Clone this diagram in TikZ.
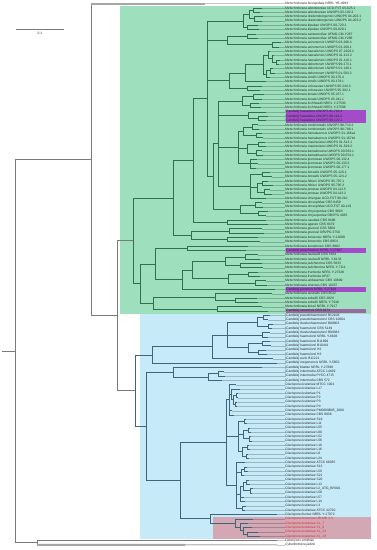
\documentclass[tikz,border=0pt]{standalone}
\usepackage{fontspec}
\setmainfont{Liberation Sans}
\usetikzlibrary{calc}

\definecolor{grnbg}{HTML}{9EDFBD}
\definecolor{blubg}{HTML}{C6EAF8}
\definecolor{redbg}{HTML}{D4A7B5}
\definecolor{purbg}{HTML}{A34BC9}
\definecolor{gpbg}{HTML}{9A68A4}
\definecolor{grnline}{HTML}{2E7050}
\definecolor{bluline}{HTML}{3E6678}
\definecolor{greyline}{HTML}{7A7A7A}
\definecolor{redtxt}{HTML}{D42A2A}
\colorlet{lab}{black!85}

\newcommand{\metn}[1]{\textit{Metschnikowia #1}}
\newcommand{\cand}[1]{\textit{[Candida] #1}}
\newcommand{\clav}[1]{\textit{Clavispora #1}}

% clade: name, x, first child, last child, all children
\newcommand{\clade}[5]{%
  \path let \p1=(#3), \p2=(#4) in coordinate (#1) at (#2pt,{0.5*(\y1+\y2)});
  \draw[br] (#1 |- #3) -- (#1 |- #4);
  \foreach \c in {#5} {\draw[br] (#1 |- \c) -- (\c);}
}

\begin{document}
\begin{tikzpicture}[x=1pt, y=-1pt,
    leaf/.style={anchor=west, inner sep=0pt, font=\fontsize{3.3}{3.6}\selectfont},
    br/.style={line width=0.7pt, draw=greyline},
    tipline/.style={line width=0.25pt, draw=black, draw opacity=0.22},
    gbar/.style={line width=1.8pt, draw=gray!70},
    sbar/.style={line width=0.8pt, draw=greyline}
  ]
  \useasboundingbox (0,0) rectangle (376,550);

  % clade boxes
  \fill[grnbg] (120,6) rectangle (371,314);
  \fill[blubg] (140,314) rectangle (371,539);
  \fill[redbg] (213,516.6) rectangle (371,539);
  \fill[purbg] (286,109.7) rectangle (366,122.7);
  \fill[purbg] (286,248.2) rectangle (366,252.6);
  \fill[purbg] (286,287.2) rectangle (366,291.6);
  \fill[gpbg] (286,308.8) rectangle (366,313.2);

  % scale bar
  \coordinate (s1) at (16,29.3);
  \coordinate (s2) at (64,29.3);
  \draw[sbar] (s1) -- (s2);
  \node[font=\fontsize{3.3}{3.6}\selectfont, text=lab] (slab) at (40,33.6) {0.1};

  % leaves
  \foreach \k/\tx/\txt/\st in {
    0/205/{\metn{bicuspidata} NRRL YB-4993}/lab,
    1/262/{\metn{aberdeeniae} UCD-FST 05-625.1}/lab,
    2/260/{\metn{aberdeeniae} UWOPS 03-102.2}/lab,
    3/263/{\metn{drakensbergensis} UWOPS 04-202.1}/lab,
    4/262/{\metn{drakensbergensis} UWOPS 04-203.2}/lab,
    5/258/{\metn{kipukae} UWOPS 00-720.2}/lab,
    6/259/{\metn{kipukae} UWOPS 00-829.1}/lab,
    7/256/{\metn{santaceciliae} UFMG-CM-Y287}/lab,
    8/258/{\metn{santaceciliae} UFMG-CM-Y288}/lab,
    9/281/{\metn{arizonensis} UWOPS 03-206.4}/lab,
    10/279/{\metn{arizonensis} UWOPS 03-209.1}/lab,
    11/270/{\metn{hawaiiensis} UWOPS 87-2203.2}/lab,
    12/274/{\metn{hawaiiensis} UWOPS 01-113.2}/lab,
    13/280/{\metn{hawaiiensis} UWOPS 01-116.1}/lab,
    14/279/{\metn{dekortorum} UWOPS 99-173.1}/lab,
    15/273/{\metn{dekortorum} UWOPS 01-140.1}/lab,
    16/275/{\metn{dekortorum} UWOPS 01-503.2}/lab,
    17/270/{\metn{similis} UWOPS 03-178.4}/lab,
    18/266/{\metn{similis} UWOPS 03-179.1}/lab,
    19/262/{\metn{colocasiae} UWOPS 95-244.3}/lab,
    20/260/{\metn{colocasiae} UWOPS 95-302.1}/lab,
    21/264/{\metn{lunata} UWOPS 05-237.1}/lab,
    22/262/{\metn{lunata} UWOPS 05-241.1}/lab,
    23/259/{\metn{lochheadii} NRRL Y-27593}/lab,
    24/261/{\metn{lochheadii} NRRL Y-27596}/lab,
    25/266/{\cand{hawaiiana} UWOPS 91-764.4}/lab,
    26/268/{\cand{hawaiiana} UWOPS 99-118.2}/lab,
    27/266/{\cand{hawaiiana} UWOPS 99-122.1}/lab,
    28/258/{\metn{continentalis} UWOPS 98-713.2}/lab,
    29/259/{\metn{continentalis} UWOPS 98-788.1}/lab,
    30/262/{\metn{hamakuensis} UWOPS 01-166a1}/lab,
    31/263/{\metn{hamakuensis} UWOPS 01-167b1}/lab,
    32/265/{\metn{mauinuiana} UWOPS 01-513.1}/lab,
    33/266/{\metn{mauinuiana} UWOPS 01-529.2}/lab,
    34/262/{\metn{kamakouana} UWOPS 00-563.1}/lab,
    35/263/{\metn{kamakouana} UWOPS 00-554.1}/lab,
    36/257/{\metn{ipomoeae} UWOPS 00-132.4}/lab,
    37/258/{\metn{ipomoeae} UWOPS 00-133.2}/lab,
    38/256/{\metn{ipomoeae} UWOPS 00-177.1}/lab,
    39/270/{\metn{borealis} UWOPS 05-120.1}/lab,
    40/272/{\metn{borealis} UWOPS 05-124.2}/lab,
    41/268/{\metn{hibisci} UWOPS 95-797.1}/lab,
    42/273/{\metn{hibisci} UWOPS 95-795.3}/lab,
    43/270/{\metn{proteae} UWOPS 04-112.5}/lab,
    44/272/{\metn{proteae} UWOPS 04-113.2}/lab,
    45/266/{\metn{shivogae} UCD-FST 99-210}/lab,
    46/262/{\metn{drosophilae} CBS 8459}/lab,
    47/263/{\metn{drosophilae} UCD-FST 00-119}/lab,
    48/268/{\metn{chrysoperlae} CBS 9803}/lab,
    49/266/{\metn{chrysoperlae} DBVPG 4035}/lab,
    50/266/{\metn{caudata} CBS 9498}/lab,
    51/268/{\metn{agaves} CBS 8479}/lab,
    52/262/{\metn{gruessii} CBS 5860}/lab,
    53/264/{\metn{gruessii} DBVPG 3750}/lab,
    54/258/{\metn{koreensis} NRRL Y-12698}/lab,
    55/260/{\metn{koreensis} CBS 8854}/lab,
    56/248/{\metn{kunwiensis} CBS 8802}/lab,
    57/246/{\cand{picachoensis} NRRL Y-27607}/lab,
    58/258/{\metn{reukaufii} CBS 5834}/lab,
    59/260/{\metn{reukaufii} NRRL Y-6133}/lab,
    60/262/{\metn{pulcherrima} CBS 5833}/lab,
    61/263/{\metn{pulcherrima} NRRL Y-7111}/lab,
    62/258/{\metn{fructicola} NRRL Y-27328}/lab,
    63/260/{\metn{fructicola} AP47}/lab,
    64/266/{\metn{andauensis} CBS 10809}/lab,
    65/267/{\metn{sinensis} CBS 10357}/lab,
    66/275/{\cand{pimensis} NRRL Y-27619}/lab,
    67/272/{\metn{australis} CBS 8522}/lab,
    68/257/{\metn{zobellii} CBS 2829}/lab,
    69/258/{\metn{zobellii} NRRL Y-7916}/lab,
    70/262/{\metn{krissii} NRRL Y-7917}/lab,
    71/268/{\cand{rancensis} CBS 8174}/lab,
    72/270/{\cand{pseudohaemulonii} B12108}/lab,
    73/268/{\cand{pseudohaemulonii} CBS 10004}/lab,
    74/273/{\cand{duobushaemulonii} B09903}/lab,
    75/272/{\cand{haemulonii} CBS 5149}/lab,
    76/270/{\cand{duobushaemulonii} B09383}/lab,
    77/268/{\cand{haemulonii} NRRL Y-6693}/lab,
    78/270/{\cand{haemulonii} B11899}/lab,
    79/271/{\cand{haemulonii} B10441}/lab,
    80/266/{\cand{haemulonii} H2}/lab,
    81/267/{\cand{haemulonii} H3}/lab,
    82/273/{\cand{auris} B11221}/lab,
    83/277/{\cand{oregonensis} NRRL Y-5850}/lab,
    84/262/{\cand{blattae} NRRL Y-27698}/lab,
    85/224/{\cand{intermedia} ATCC 14439}/lab,
    86/225/{\cand{intermedia} PYCC 4715}/lab,
    87/222/{\cand{intermedia} CBS 572}/lab,
    88/236/{\clav{lusitaniae} MTCC 1001}/lab,
    89/240/{\clav{lusitaniae} L17}/lab,
    90/238/{\clav{lusitaniae} P1}/lab,
    91/238/{\clav{lusitaniae} P2}/lab,
    92/237/{\clav{lusitaniae} P3}/lab,
    93/237/{\clav{lusitaniae} P4}/lab,
    94/232/{\clav{lusitaniae} PM0089B05\_2090}/lab,
    95/234/{\clav{lusitaniae} CBS 6936}/lab,
    96/246/{\clav{lusitaniae} S19}/lab,
    97/247/{\clav{lusitaniae} L11}/lab,
    98/250/{\clav{lusitaniae} L55}/lab,
    99/251/{\clav{lusitaniae} L60}/lab,
    100/251/{\clav{lusitaniae} L52}/lab,
    101/252/{\clav{lusitaniae} L56}/lab,
    102/249/{\clav{lusitaniae} L18}/lab,
    103/250/{\clav{lusitaniae} L16}/lab,
    104/248/{\clav{lusitaniae} L8}/lab,
    105/249/{\clav{lusitaniae} L24}/lab,
    106/245/{\clav{lusitaniae} ATCC 66035}/lab,
    107/247/{\clav{lusitaniae} S13}/lab,
    108/248/{\clav{lusitaniae} L50}/lab,
    109/244/{\clav{lusitaniae} S21}/lab,
    110/249/{\clav{lusitaniae} S20}/lab,
    111/250/{\clav{lusitaniae} L13}/lab,
    112/253/{\clav{lusitaniae} L2\_ATG\_BR001}/lab,
    113/252/{\clav{lusitaniae} L58}/lab,
    114/244/{\clav{lusitaniae} L57}/lab,
    115/245/{\clav{lusitaniae} L14}/lab,
    116/246/{\clav{lusitaniae} L3}/lab,
    117/245/{\clav{lusitaniae} ATCC 42720}/lab,
    118/277/{\clav{fructus} NRRL Y-17072}/lab,
    119/253/{\clav{lusitaniae} UB-MR 3.3}/redtxt,
    120/248/{\clav{lusitaniae} XL\_7}/redtxt,
    121/252/{\clav{lusitaniae} XL\_9}/redtxt,
    122/258/{\clav{lusitaniae} XL\_14}/redtxt,
    123/260/{\clav{lusitaniae} XL\_18}/redtxt,
    124/277/{\textit{Lipomyces smithiae}}/lab,
    125/277/{\textit{Cyberlindnera jadinii}}/lab}
  {
    \coordinate (tp\k) at (\tx,{3.6+4.33*\k});
    \node[leaf, text=\st] (t\k) at (285,{3.6+4.33*\k}) {\txt};
    \draw[tipline] (tp\k) -- (t\k.west);
  }

  % Metschnikowia clade (green)
  \begin{scope}[br/.style={line width=0.7pt, draw=grnline}]
    \clade{nAa}{253}{tp1}{tp2}{tp1,tp2}
    \clade{nAb}{254}{tp3}{tp4}{tp3,tp4}
    \clade{nAc}{247}{tp5}{tp6}{tp5,tp6}
    \clade{nAab}{249}{nAa}{nAb}{nAa,nAb}
    \clade{nA}{243}{nAab}{nAc}{nAab,nAc}
    \clade{nHa}{247}{tp7}{tp8}{tp7,tp8}
    \clade{nHb}{272}{tp9}{tp10}{tp9,tp10}
    \clade{nH}{227}{nHa}{nHb}{nHa,nHb}
    \clade{nCa}{276}{tp13}{tp14}{tp13,tp14}
    \clade{nCb}{272}{tp12}{nCa}{tp12,nCa}
    \clade{nCc}{268}{tp11}{nCb}{tp11,nCb}
    \clade{nCd}{270}{tp15}{tp16}{tp15,tp16}
    \clade{nCe}{266}{nCd}{tp17}{nCd,tp17}
    \clade{nC1}{263}{nCc}{nCe}{nCc,nCe}
    \clade{nC}{245}{nC1}{tp18}{nC1,tp18}
    \clade{nD}{247}{tp19}{tp20}{tp19,tp20}
    \clade{nCD}{229}{nC}{nD}{nC,nD}
    \clade{nEa}{253}{tp21}{tp22}{tp21,tp22}
    \clade{nEb}{250}{tp23}{tp24}{tp23,tp24}
    \clade{nE}{242}{nEa}{nEb}{nEa,nEb}
    \clade{nPa}{258}{tp26}{tp27}{tp26,tp27}
    \clade{nP}{248}{tp25}{nPa}{tp25,nPa}
    \clade{nQa}{252}{tp28}{tp29}{tp28,tp29}
    \clade{nQb}{256}{tp30}{tp31}{tp30,tp31}
    \clade{nQab}{243}{nQa}{nQb}{nQa,nQb}
    \clade{nQc}{258}{tp32}{tp33}{tp32,tp33}
    \clade{nQd}{256}{tp34}{tp35}{tp34,tp35}
    \clade{nQcd}{247}{nQc}{nQd}{nQc,nQd}
    \clade{nQe}{250}{tp36}{tp38}{tp36,tp37,tp38}
    \clade{nQ}{238}{nQab}{nQe}{nQab,nQcd,nQe}
    \clade{nRa}{262}{tp39}{tp40}{tp39,tp40}
    \clade{nRb}{262}{tp41}{tp42}{tp41,tp42}
    \clade{nRc}{264}{tp43}{tp44}{tp43,tp44}
    \clade{nRbc}{257}{nRb}{nRc}{nRb,nRc}
    \clade{nR}{250}{nRa}{tp45}{nRa,nRbc,tp45}
    \clade{nM1}{218}{nE}{nR}{nE,nP,nQ,nR}
    \clade{nMa}{255}{tp46}{tp47}{tp46,tp47}
    \clade{nMb}{258}{tp48}{tp49}{tp48,tp49}
    \clade{nM2}{240}{nMa}{nMb}{nMa,nMb}
    \clade{nM}{213}{nM1}{nM2}{nM1,nM2}
    \clade{nG1a1}{207}{nA}{nM}{nA,nH,nCD,nM}
    \clade{nG1a2}{227}{tp50}{tp51}{tp50,tp51}
    \clade{nG1a}{193}{nG1a1}{nG1a2}{nG1a1,nG1a2}
    \clade{nG1ba}{229}{tp52}{tp53}{tp52,tp53}
    \clade{nG1bb}{227}{tp54}{tp55}{tp54,tp55}
    \clade{nG1b}{191}{nG1ba}{nG1bb}{nG1ba,nG1bb}
    \clade{nG1}{173}{nG1a}{nG1b}{nG1a,nG1b}
    \clade{nG2a1}{187}{tp56}{tp57}{tp56,tp57}
    \clade{nTa}{245}{tp58}{tp59}{tp58,tp59}
    \clade{nTb}{240}{tp60}{tp61}{tp60,tp61}
    \clade{nT1}{225}{nTa}{nTb}{nTa,nTb}
    \clade{nTc}{248}{tp62}{tp63}{tp62,tp63}
    \clade{nTd}{255}{tp64}{tp65}{tp64,tp65}
    \clade{nT2}{228}{nTc}{nTd}{nTc,nTd}
    \clade{nG2a2t}{192}{nT1}{nT2}{nT1,nT2}
    \clade{nG2a2}{182}{nG2a2t}{tp66}{nG2a2t,tp66}
    \clade{nG2a}{155}{nG2a1}{nG2a2}{nG2a1,nG2a2}
    \clade{nG2ba}{235}{tp68}{tp69}{tp68,tp69}
    \clade{nG2b1}{215}{tp67}{nG2ba}{tp67,nG2ba}
    \clade{nG2b2}{217}{tp70}{tp71}{tp70,tp71}
    \clade{nG2b}{153}{nG2b1}{nG2b2}{nG2b1,nG2b2}
    \clade{nG2}{140}{nG2a}{nG2b}{nG2a,nG2b}
    \clade{nG}{133}{nG1}{nG2}{nG1,nG2}
  \end{scope}

  % Clavispora clade (blue)
  \begin{scope}[br/.style={line width=0.7pt, draw=bluline}]
    \clade{nBta}{263}{tp72}{tp73}{tp72,tp73}
    \clade{nBtb}{268}{tp74}{tp75}{tp74,tp75}
    \clade{nBt}{257}{nBta}{nBtb}{nBta,nBtb}
    \clade{nBm}{262}{tp76}{tp77}{tp76,tp77}
    \clade{nBba}{262}{tp78}{tp79}{tp78,tp79}
    \clade{nBbb}{258}{tp80}{tp81}{tp80,tp81}
    \clade{nBb}{248}{nBba}{nBbb}{nBba,nBbb}
    \clade{nBa1}{227}{nBt}{nBb}{nBt,nBm,nBb}
    \clade{nBa}{212}{nBa1}{tp82}{nBa1,tp82}
    \clade{nB1}{152}{nBa}{tp83}{nBa,tp83}
    \clade{nIa}{218}{tp85}{tp86}{tp85,tp86}
    \clade{nIb}{208}{nIa}{tp87}{nIa,tp87}
    \clade{nB2a}{173}{tp84}{nIb}{tp84,nIb}
    \clade{nLc}{236}{tp90}{tp91}{tp90,tp91}
    \clade{nLd}{235}{tp92}{tp93}{tp92,tp93}
    \clade{nLb}{233}{nLc}{nLd}{nLc,nLd}
    \clade{nLa}{231}{tp89}{nLb}{tp89,nLb}
    \clade{nL1}{229}{tp88}{tp95}{tp88,nLa,tp94,tp95}
    \clade{nLe}{244}{tp96}{tp97}{tp96,tp97}
    \clade{nLf}{248}{tp98}{tp99}{tp98,tp99}
    \clade{nLg}{249}{tp100}{tp101}{tp100,tp101}
    \clade{nLfg}{243}{nLf}{nLg}{nLf,nLg}
    \clade{nLh}{247}{tp102}{tp103}{tp102,tp103}
    \clade{nLi}{246}{tp104}{tp105}{tp104,tp105}
    \clade{nLhi}{242}{nLh}{nLi}{nLh,nLi}
    \clade{nL2}{238}{nLe}{nLhi}{nLe,nLfg,nLhi}
    \clade{nLj}{244}{tp107}{tp108}{tp107,tp108}
    \clade{nLk}{241}{nLj}{tp109}{nLj,tp109}
    \clade{nLm}{246}{tp110}{tp111}{tp110,tp111}
    \clade{nLn}{250}{tp112}{tp113}{tp112,tp113}
    \clade{nLmn}{243}{nLm}{nLn}{nLm,nLn}
    \clade{nLo}{240}{nLmn}{tp115}{nLmn,tp114,tp115}
    \clade{nLp}{242}{tp116}{tp117}{tp116,tp117}
    \clade{nL3}{236}{tp106}{nLp}{tp106,nLk,nLo,nLp}
    \clade{nL}{226}{nL1}{nL3}{nL1,nL2,nL3}
    \clade{nRd1}{247}{tp122}{tp123}{tp122,tp123}
    \clade{nRd2}{243}{tp121}{nRd1}{tp121,nRd1}
    \clade{nRd3}{240}{tp120}{nRd2}{tp120,nRd2}
    \clade{nRd}{235}{tp119}{nRd3}{tp119,nRd3}
    \clade{nFr}{210}{tp118}{nRd}{tp118,nRd}
    \clade{nB2b}{180}{nL}{nFr}{nL,nFr}
    \clade{nB2}{146}{nB2a}{nB2b}{nB2a,nB2b}
    \clade{nBl}{135}{nB1}{nB2}{nB1,nB2}
  \end{scope}

  % backbone and outgroups
  \clade{nN2}{117}{nG}{nBl}{nG,nBl}
  \clade{nN1}{91}{tp0}{nN2}{nN2}
  \draw[gbar] (nN1 |- tp0) -- (tp0);
  \clade{nOut}{37}{tp124}{tp125}{tp124}
  \coordinate (cbk) at (185,544.85);
  \draw[gbar] (nOut |- tp125) -- (cbk);
  \draw[br, draw=black!70, line width=0.5pt] (cbk) -- (tp125);
  \clade{nN0}{15}{nN1}{nOut}{nN1,nOut}
  \path (nN0) ++(-13,0) coordinate (root);
  \draw[br] (root) -- (nN0);
\end{tikzpicture}
\end{document}
